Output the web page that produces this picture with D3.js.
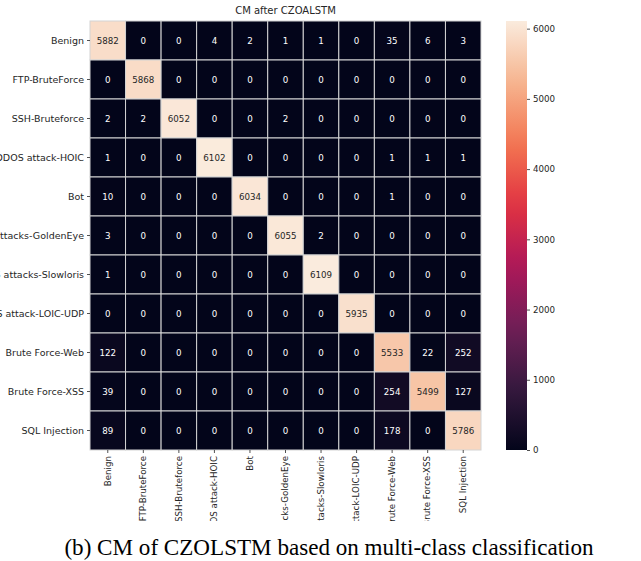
<!DOCTYPE html>
<html>
<head>
<meta charset="utf-8">
<script src="https://cdn.jsdelivr.net/npm/d3@7"></script>
<style>
  html, body { margin: 0; padding: 0; background: #fff; }
  svg { display: block; }
</style>
</head>
<body>
<svg id="chart" width="641" height="561"></svg>
<script>
// Class names (rows = true label, columns = predicted label)
const classes = [
  "Benign", "FTP-BruteForce", "SSH-Bruteforce", "DDOS attack-HOIC", "Bot",
  "DoS attacks-GoldenEye", "DoS attacks-Slowloris", "DDOS attack-LOIC-UDP",
  "Brute Force-Web", "Brute Force-XSS", "SQL Injection"
];
const rowBenign      = [5882, 0, 0, 4, 2, 1, 1, 0, 35, 6, 3];
const rowFTP         = [0, 5868, 0, 0, 0, 0, 0, 0, 0, 0, 0];
const rowSSH         = [2, 2, 6052, 0, 0, 2, 0, 0, 0, 0, 0];
const rowHOIC        = [1, 0, 0, 6102, 0, 0, 0, 0, 1, 1, 1];
const rowBot         = [10, 0, 0, 0, 6034, 0, 0, 0, 1, 0, 0];
const rowGoldenEye   = [3, 0, 0, 0, 0, 6055, 2, 0, 0, 0, 0];
const rowSlowloris   = [1, 0, 0, 0, 0, 0, 6109, 0, 0, 0, 0];
const rowLOIC        = [0, 0, 0, 0, 0, 0, 0, 5935, 0, 0, 0];
const rowWeb         = [122, 0, 0, 0, 0, 0, 0, 0, 5533, 22, 252];
const rowXSS         = [39, 0, 0, 0, 0, 0, 0, 0, 254, 5499, 127];
const rowSQL         = [89, 0, 0, 0, 0, 0, 0, 0, 178, 0, 5786];
const matrix = [rowBenign, rowFTP, rowSSH, rowHOIC, rowBot, rowGoldenEye,
                rowSlowloris, rowLOIC, rowWeb, rowXSS, rowSQL];
const colorbarTicks = [0, 1000, 2000, 3000, 4000, 5000, 6000];
const titleText = "CM after CZOALSTM";
const captionText = "(b) CM of CZOLSTM based on multi-class classification";

// "rocket" colormap anchor colours
const rocketStops = ["#03051a", "#35193e", "#701f57", "#ad1759", "#e13342",
                     "#f37651", "#f6b48f", "#faebdd"];

const svg = d3.select("#chart");
const hm = { x0: 90, x1: 481, y0: 21, y1: 450 };
const cb = { x0: 506, x1: 527 };
const tickFont = "DejaVu Sans, sans-serif";
const tickSize = 8.7;
const ink = "#262626";

const vmax = d3.max(matrix.flat());
const rocket = d3.piecewise(d3.interpolateRgb, rocketStops);
const color = v => rocket(Math.max(0, Math.min(1, v / vmax)));

const x = d3.scaleBand().domain(d3.range(classes.length)).range([hm.x0, hm.x1]);
const y = d3.scaleBand().domain(d3.range(classes.length)).range([hm.y0, hm.y1]);

function luminance(c) {
  const rgb = d3.rgb(c);
  const f = u => { u /= 255; return u <= 0.03928 ? u / 12.92 : Math.pow((u + 0.055) / 1.055, 2.4); };
  return 0.2126 * f(rgb.r) + 0.7152 * f(rgb.g) + 0.0722 * f(rgb.b);
}

const cells = [];
matrix.forEach((row, i) => row.forEach((v, j) => cells.push({ i, j, v })));

// Heatmap cells
svg.append("g").selectAll("rect").data(cells).join("rect")
  .attr("x", d => x(d.j)).attr("y", d => y(d.i))
  .attr("width", x.bandwidth()).attr("height", y.bandwidth())
  .attr("fill", d => color(d.v))
  .attr("stroke", "#d4d4d4").attr("stroke-width", 1);

// Cell annotations
svg.append("g").selectAll("text").data(cells).join("text")
  .attr("x", d => x(d.j) + x.bandwidth() / 2)
  .attr("y", d => y(d.i) + y.bandwidth() / 2)
  .attr("text-anchor", "middle").attr("dominant-baseline", "central")
  .attr("font-family", tickFont).attr("font-size", tickSize)
  .attr("fill", d => luminance(color(d.v)) > 0.408 ? ink : "#ffffff")
  .text(d => d.v);

// Y axis (true labels)
const yAxis = d3.axisLeft(d3.scaleBand().domain(classes).range([hm.y0, hm.y1]))
  .tickSize(3).tickPadding(3);
const gy = svg.append("g").attr("transform", `translate(${hm.x0},0)`).call(yAxis);
gy.select(".domain").remove();
gy.selectAll("text").attr("font-family", tickFont).attr("font-size", 9.5).attr("fill", ink);
gy.selectAll("line").attr("stroke", ink).attr("stroke-width", 0.8);

// X axis (predicted labels), rotated and clipped at the figure's lower edge
svg.append("clipPath").attr("id", "xclip")
  .append("rect").attr("x", 0).attr("y", 0).attr("width", 641).attr("height", 521);
const xAxis = d3.axisBottom(d3.scaleBand().domain(classes).range([hm.x0, hm.x1]))
  .tickSize(3).tickPadding(3);
const gx = svg.append("g").attr("clip-path", "url(#xclip)")
  .append("g").attr("transform", `translate(0,${hm.y1})`).call(xAxis);
gx.select(".domain").remove();
gx.selectAll("line").attr("stroke", ink).attr("stroke-width", 0.8);
gx.selectAll("text")
  .attr("font-family", tickFont).attr("font-size", tickSize).attr("fill", ink)
  .attr("transform", "rotate(-90)")
  .attr("text-anchor", "end")
  .attr("x", -6).attr("y", 0).attr("dy", "0.32em");

// Title
svg.append("text")
  .attr("x", (hm.x0 + hm.x1) / 2).attr("y", 14)
  .attr("text-anchor", "middle")
  .attr("font-family", tickFont).attr("font-size", 10).attr("fill", ink)
  .text(titleText);

// Colorbar
const cbScale = d3.scaleLinear().domain([0, vmax]).range([hm.y1, hm.y0]);
const defs = svg.append("defs");
const grad = defs.append("linearGradient").attr("id", "cbgrad")
  .attr("x1", 0).attr("y1", 1).attr("x2", 0).attr("y2", 0);
d3.range(0, 1.0001, 0.05).forEach(t => {
  grad.append("stop").attr("offset", t).attr("stop-color", rocket(t));
});
svg.append("rect")
  .attr("x", cb.x0).attr("y", hm.y0)
  .attr("width", cb.x1 - cb.x0).attr("height", hm.y1 - hm.y0)
  .attr("fill", "url(#cbgrad)");
const gcb = svg.append("g").attr("transform", `translate(${cb.x1},0)`)
  .call(d3.axisRight(cbScale).tickValues(colorbarTicks).tickFormat(d3.format("d"))
    .tickSize(3).tickPadding(3));
gcb.select(".domain").remove();
gcb.selectAll("line").attr("stroke", ink).attr("stroke-width", 0.8);
gcb.selectAll("text").attr("font-family", tickFont).attr("font-size", tickSize).attr("fill", ink);

// Caption
svg.append("text")
  .attr("x", 329).attr("y", 555)
  .attr("text-anchor", "middle")
  .attr("font-family", "Liberation Serif, Times New Roman, serif")
  .attr("font-size", 23.1).attr("fill", "#000")
  .text(captionText);
</script>
</body>
</html>
